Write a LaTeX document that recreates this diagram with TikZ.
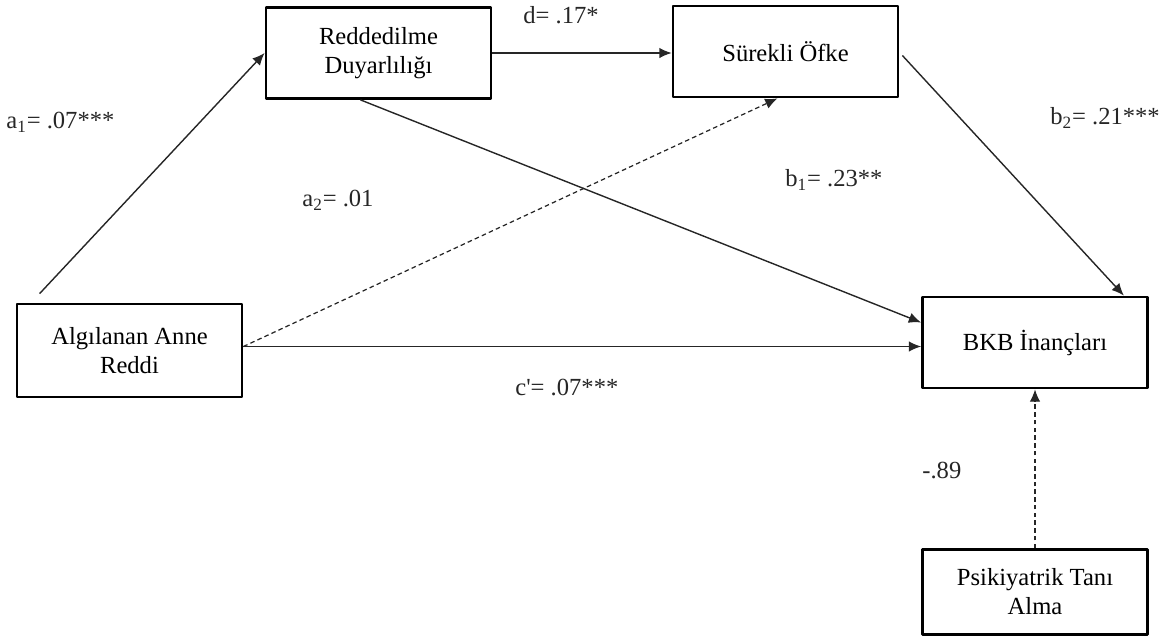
\documentclass[tikz,border=0pt]{standalone}
\usepackage{fontspec}
\setmainfont{Liberation Serif}
\usepackage{tikz}
\usetikzlibrary{arrows.meta, calc, positioning}

\begin{document}
\begin{tikzpicture}[>={Latex[length=7pt,width=6pt]},line join=bevel,x=0.02cm,y=-0.02cm,
        var/.style={draw, line width=1.6pt, minimum width=4.5cm, minimum height=1.82cm,
                align=center, inner sep=2pt, font=\fontsize{14}{16.5}\selectfont},
        path/.style={->, line width=0.8pt, draw=black!85},
        nonsig/.style={path, line width=0.7pt, dash pattern=on 2.6pt off 1.8pt},
        coef/.style={anchor=west, inner sep=0pt, text=black!85, font=\fontsize{14}{16}\selectfont}]
        \useasboundingbox (0,0) rectangle (1162,643);
        \node[var] (redd) at (378.5,53) {Reddedilme\\Duyarlılığı};
        \node[var] (ofke) at (785.5,51.5) {Sürekli Öfke};
        \node[var, minimum height=1.86cm] (anne) at (129.5,350.5) {Algılanan Anne\\Reddi};
        \node[var] (bkb) at (1035,342.5) {BKB İnançları};
        \node[var, minimum height=1.7cm] (tani) at (1035,592) {Psikiyatrik Tanı\\Alma};
        \coordinate (a1) at ($(anne.north west)+(24,-9)$);
        \coordinate (cx) at ($(anne.east)+(0,-4)$);

        \draw[path] (a1) -- (redd.west);
        \draw[nonsig] (cx) -- ($(ofke.south)+(-8,0)$);
        \draw[path] (redd.east) -- (redd.east -| ofke.west);
        \draw[path] ($(redd.south)+(-18,0)$) -- ($(bkb.west)+(0,-20)$);
        \draw[path] (cx) -- (cx -| bkb.west);
        \draw[path] ($(ofke.east)+(3,4)$) -- ($(bkb.north east)+(-25,0)$);
        \draw[nonsig] (tani.north) -- (bkb.south);

        \node[coef] (la1) at (6,122) {a\textsubscript{1}= .07***};
        \node[coef] (la2) at (302,200) {a\textsubscript{2}= .01};
        \node[coef] (ld) at (523,15) {d= .17*};
        \node[coef] (lb1) at (785,180) {b\textsubscript{1}= .23**};
        \node[coef] (lb2) at (1050,118) {b\textsubscript{2}= .21***};
        \node[coef] (lc) at (515,387) {c\textquotesingle= .07***};
        \node[coef] (lt) at (922,470) {-.89};
      \end{tikzpicture}
\end{document}
